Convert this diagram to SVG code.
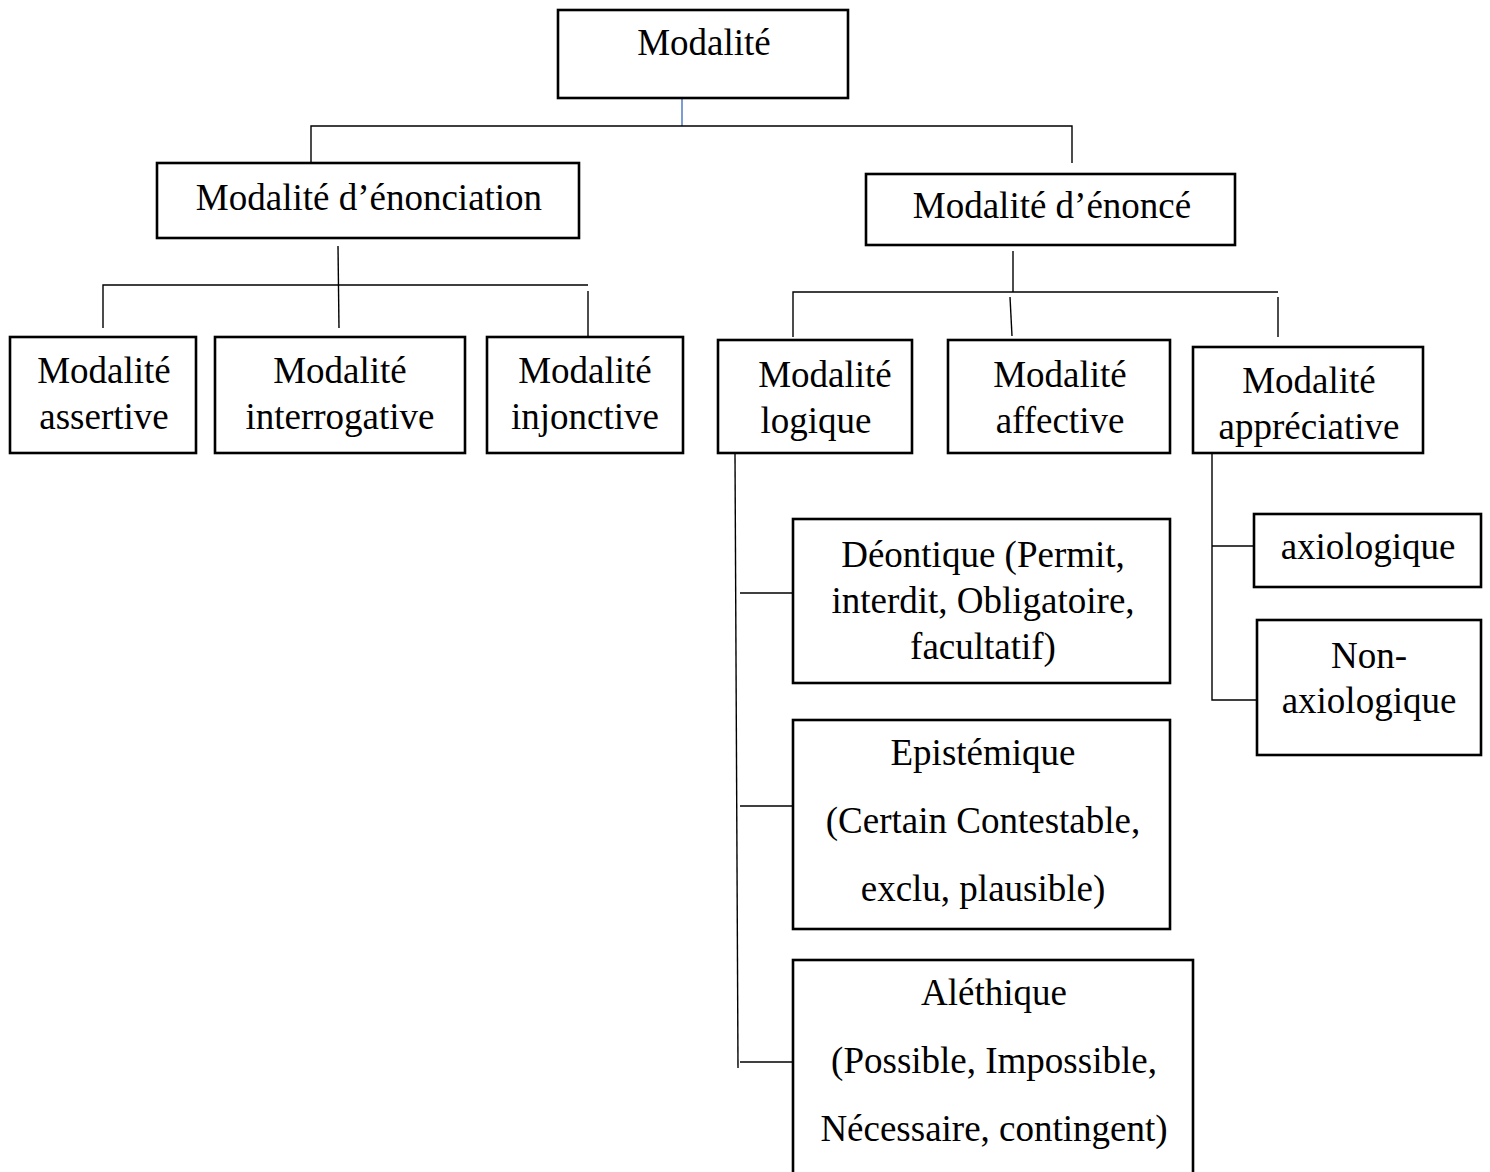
<svg xmlns="http://www.w3.org/2000/svg" width="1490" height="1172" viewBox="0 0 1490 1172">
<style>
.box{fill:#fff;stroke:#000;stroke-width:2.6}
.t{font-family:"Liberation Serif","Times New Roman",serif;font-size:37px;fill:#000;text-anchor:middle}
.c{fill:none;stroke:#000;stroke-width:1.4}
</style>
<rect width="1490" height="1172" fill="#fff"/>
<g id="connectors">
<line x1="682" y1="99" x2="682" y2="126" stroke="#4472c4" stroke-width="1.4"/>
<polyline class="c" points="311,163 311,126 1072,126 1072,163"/>
<line class="c" x1="338" y1="246" x2="339" y2="328"/>
<polyline class="c" points="103,328 103,285 588,285"/>
<line class="c" x1="588" y1="291" x2="588" y2="337"/>
<line class="c" x1="1013" y1="251" x2="1013" y2="292"/>
<polyline class="c" points="793,337 793,292 1278,292"/>
<line class="c" x1="1010" y1="297" x2="1012" y2="336"/>
<line class="c" x1="1278" y1="297" x2="1278" y2="337"/>
<line class="c" x1="735" y1="454" x2="738" y2="1068"/>
<line class="c" x1="740" y1="593" x2="793" y2="593"/>
<line class="c" x1="740" y1="806" x2="793" y2="806"/>
<line class="c" x1="740" y1="1062" x2="793" y2="1062"/>
<polyline class="c" points="1212,454 1212,700 1257,700"/>
<line class="c" x1="1212" y1="546" x2="1255" y2="546"/>
</g>
<g id="n-modalite"><rect class="box" x="558" y="10" width="290" height="88" stroke-width="3"/><text class="t" x="704" y="55">Modalité</text></g>
<g id="n-enonciation"><rect class="box" x="157" y="163" width="422" height="75"/><text class="t" x="369" y="210">Modalité d’énonciation</text></g>
<g id="n-enonce"><rect class="box" x="866" y="174" width="369" height="71"/><text class="t" x="1052" y="218">Modalité d’énoncé</text></g>
<g id="n-assertive"><rect class="box" x="10" y="337" width="186" height="116"/><text class="t" x="104" y="383">Modalité</text><text class="t" x="104" y="429">assertive</text></g>
<g id="n-interrogative"><rect class="box" x="215" y="337" width="250" height="116"/><text class="t" x="340" y="383">Modalité</text><text class="t" x="340" y="429">interrogative</text></g>
<g id="n-injonctive"><rect class="box" x="487" y="337" width="196" height="116"/><text class="t" x="585" y="383">Modalité</text><text class="t" x="585" y="429">injonctive</text></g>
<g id="n-logique"><rect class="box" x="718" y="340" width="194" height="113"/><text class="t" x="825" y="387">Modalité</text><text class="t" x="816" y="433">logique</text></g>
<g id="n-affective"><rect class="box" x="948" y="340" width="222" height="113"/><text class="t" x="1060" y="387">Modalité</text><text class="t" x="1060" y="433">affective</text></g>
<g id="n-appreciative"><rect class="box" x="1193" y="347" width="230" height="106"/><text class="t" x="1309" y="393">Modalité</text><text class="t" x="1309" y="439">appréciative</text></g>
<g id="n-deontique"><rect class="box" x="793" y="519" width="377" height="164"/><text class="t" x="983" y="567">Déontique (Permit,</text><text class="t" x="983" y="613">interdit, Obligatoire,</text><text class="t" x="983" y="659">facultatif)</text></g>
<g id="n-epistemique"><rect class="box" x="793" y="720" width="377" height="209"/><text class="t" x="983" y="765">Epistémique</text><text class="t" x="983" y="833">(Certain Contestable,</text><text class="t" x="983" y="901">exclu, plausible)</text></g>
<g id="n-alethique"><rect class="box" x="793" y="960" width="400" height="214"/><text class="t" x="994" y="1005">Aléthique</text><text class="t" x="994" y="1073">(Possible, Impossible,</text><text class="t" x="994" y="1141">Nécessaire, contingent)</text></g>
<g id="n-axiologique"><rect class="box" x="1254" y="514" width="227" height="73"/><text class="t" x="1368" y="559">axiologique</text></g>
<g id="n-nonaxiologique"><rect class="box" x="1257" y="620" width="224" height="135"/><text class="t" x="1369" y="668">Non-</text><text class="t" x="1369" y="713">axiologique</text></g>
</svg>
